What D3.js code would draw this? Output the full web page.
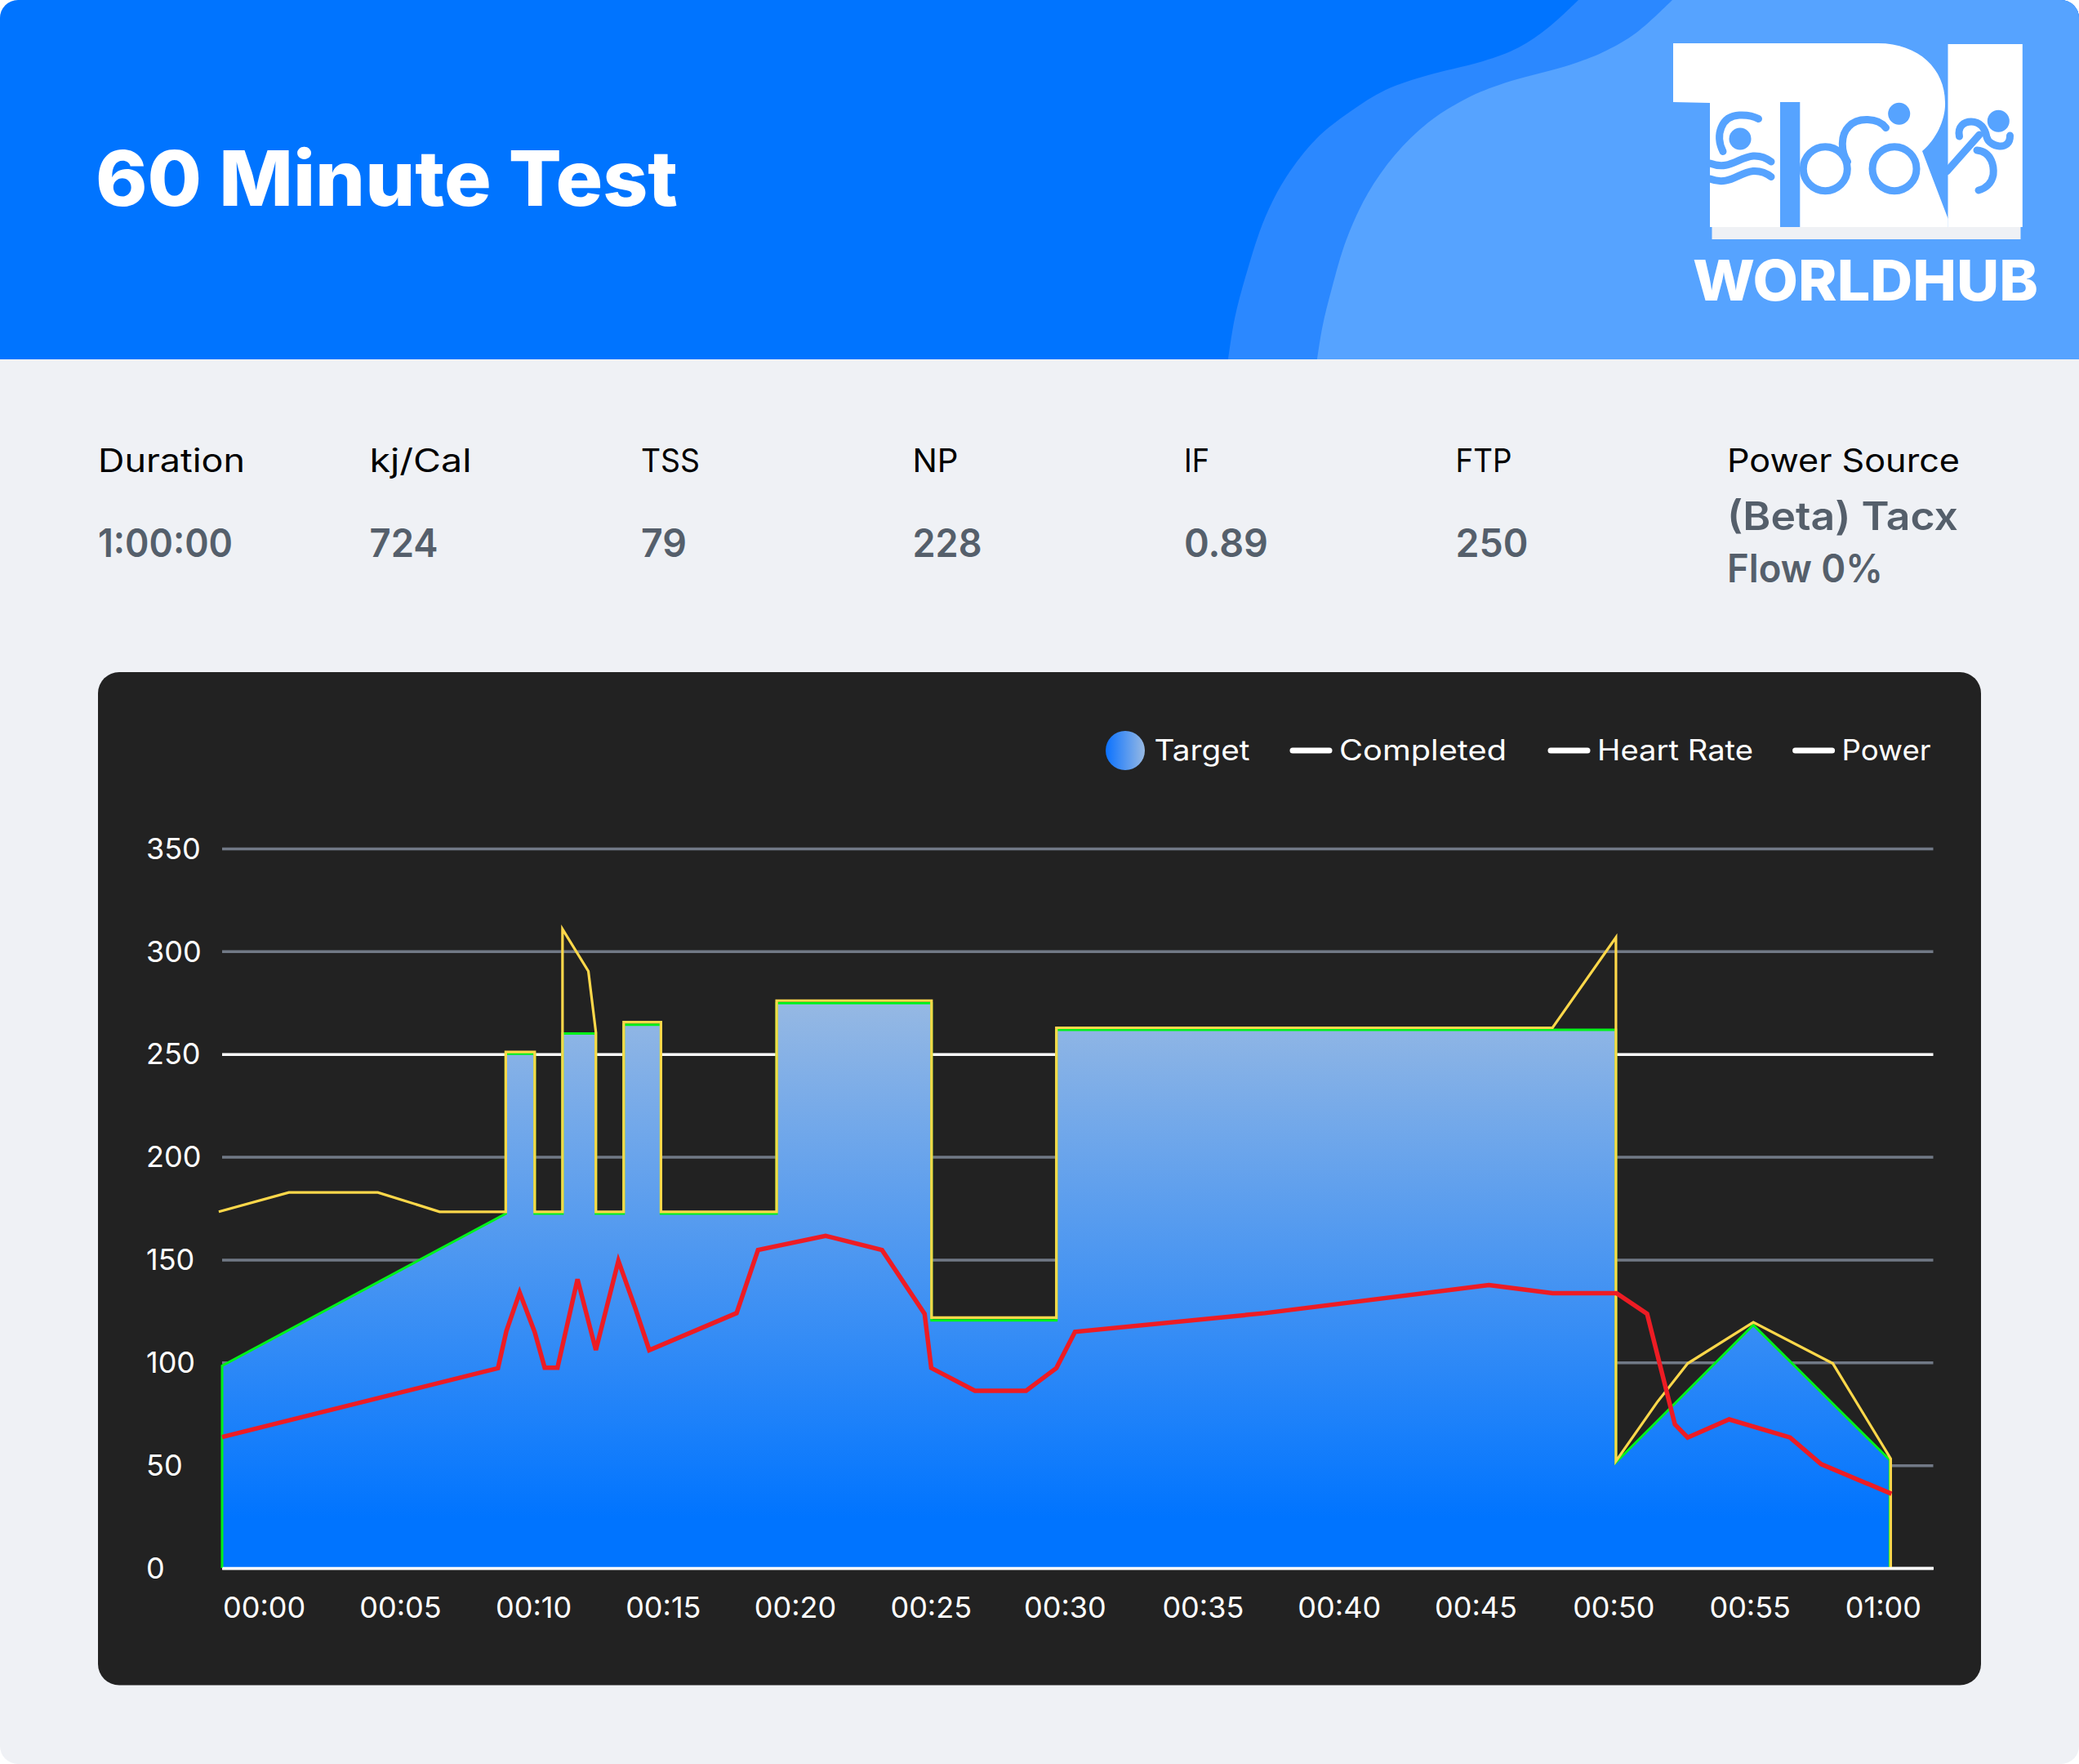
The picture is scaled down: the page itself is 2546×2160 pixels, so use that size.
<!DOCTYPE html>
<html>
<head>
<meta charset="utf-8">
<script src="https://cdn.jsdelivr.net/npm/d3@7"></script>
<style>
html,body{margin:0;padding:0;background:#fff}
svg{display:block}
text{font-family:Inter,sans-serif}
</style>
</head>
<body>
<svg id="chart" width="2546" height="2160" viewBox="0 0 2546 2160"></svg>
<script>
// ---------- data ----------
const chartTitle = "60 Minute Test";
const statNames = ["Duration","kj/Cal","TSS","NP","IF","FTP","Power Source"];
const statValues = [["1:00:00"],["724"],["79"],["228"],["0.89"],["250"],["(Beta) Tacx","Flow 0%"]];
const legendNames = ["Target","Completed","Heart Rate","Power"];
const yTicks = [0,50,100,150,200,250,300,350];
const xTickMinutes = [1.5,6.4,11.19,15.85,20.6,25.48,30.3,35.26,40.16,45.07,50.03,54.93,59.72];
const xTickLabels = ["00:00","00:05","00:10","00:15","00:20","00:25","00:30","00:35","00:40","00:45","00:50","00:55","01:00"];

const targetMinutes = [0,0,10.2,10.2,11.24,11.24,12.24,12.24,13.44,13.44,14.44,14.44,15.78,15.78,19.94,19.94,25.51,25.51,30,30,50.12,50.12,55.06,59.97,59.97];
const targetWatts   = [0,98.4,172.4,250.2,250.2,172.4,172.4,260,260,172.4,172.4,264.3,264.3,172.4,172.4,274.8,274.8,120.5,120.5,261.8,261.8,51.4,118.2,52.5,0];

const powerMinutes = [-0.12,2.4,5.6,7.82,10.2,10.2,11.24,11.24,12.24,12.24,13.17,13.44,13.44,14.44,14.44,15.78,15.78,19.94,19.94,25.51,25.51,30,30,47.84,50.12,50.12,51.6,52.7,55.06,57.92,60,60];
const powerWatts   = [173.3,182.7,182.7,173.3,173.3,251,251,173.3,173.3,310.8,290.3,260.7,173.3,173.3,265.5,265.5,173.3,173.3,276,276,121.8,121.8,262.8,262.8,306.8,52,80.6,99.5,119.5,99.5,53.2,0];

const heartMinutes = [0,9.92,10.22,10.7,11.24,11.6,12.06,12.78,13.44,14.25,14.86,15.36,18.5,19.27,21.7,23.73,25.26,25.5,27.07,28.91,30,30.67,37.5,45.55,47.84,50.14,51.24,52.24,52.7,54.19,56.38,57.5,60.03];
const heartRate    = [63.7,97.2,115.2,134,114.8,97.4,97.4,140.5,106,149.4,126.3,106,124,154.7,161.6,154.7,123.7,97.3,86.2,86.2,97.3,114.9,124,137.6,133.7,133.7,123.7,69.9,63.5,72.3,63.5,50.5,36.1];

// ---------- layout (rendered text widths) ----------
const statLabelWidths = [180,125,72,56,31,69,285];
const statValueWidths = [[165],[84],[56],[85],[103],[89],[283,191]];
const legendWidths = [117,205,191,109];

// ---------- scales ----------
const x = d3.scaleLinear().domain([0,61.53]).range([272,2367.5]);
const y = d3.scaleLinear().domain([0,350]).range([1920,1039]);

const svg = d3.select("#chart");
const defs = svg.append("defs");
defs.append("clipPath").attr("id","page").append("rect")
  .attr("width",2546).attr("height",2160).attr("rx",22);
const areaGrad = defs.append("linearGradient").attr("id","areaGrad")
  .attr("gradientUnits","userSpaceOnUse").attr("x1",0).attr("x2",0)
  .attr("y1",y(24)).attr("y2",y(277));
areaGrad.append("stop").attr("offset",0).attr("stop-color","#0074ff");
areaGrad.append("stop").attr("offset",1).attr("stop-color","#97b9e3");
const legGrad = defs.append("linearGradient").attr("id","legGrad");
legGrad.append("stop").attr("offset",0).attr("stop-color","#0b72ff");
legGrad.append("stop").attr("offset",1).attr("stop-color","#97b9e3");

const page = svg.append("g").attr("clip-path","url(#page)");
page.append("rect").attr("width",2546).attr("height",2160).attr("fill","#eff1f5");

// ---------- header ----------
const hdr = page.append("g");
hdr.append("rect").attr("width",2546).attr("height",440).attr("fill","#0074ff");
const blobLine = d3.line().curve(d3.curveCatmullRom.alpha(0.5));
const backBlob  = [[1933,0],[1897,33],[1860,58],[1816,75],[1749,92],[1697,110],[1653,137],[1612,170],[1575,217],[1549,267],[1527,333],[1512,390],[1504,440]];
const frontBlob = [[2048,0],[2004,40],[1967,62],[1927,78],[1841.5,102],[1797,120],[1749,150],[1708,190],[1675,237],[1649,293],[1631,353],[1619.5,400],[1613,440]];
hdr.append("path").attr("fill","#2b88ff").attr("d", blobLine(backBlob)+"L2546,440L2546,0Z");
hdr.append("path").attr("fill","#56a3ff").attr("d", blobLine(frontBlob)+"L2546,440L2546,0Z");
hdr.append("text").text(chartTitle).attr("x",117).attr("y",251.5)
  .attr("fill","#fff").attr("font-size",93.5).attr("font-weight",800)
  .attr("textLength",713).attr("lengthAdjust","spacingAndGlyphs");

// ---------- logo ----------
const logo = hdr.append("g");
logo.append("rect").attr("x",2096.5).attr("y",278).attr("width",378).attr("height",15).attr("fill","#eff1f5");
logo.append("path").attr("fill","#fff")
  .attr("d","M2049,53 L2300,53 C2350,53 2382,85 2382,125 C2383,145 2372,170 2354,185 L2385.7,268 L2385.7,278 L2094,278 L2094,126 L2049,125 Z");
logo.append("rect").attr("x",2385.5).attr("y",54).attr("width",91.3).attr("height",224).attr("fill","#fff");
const ic = logo.append("g").attr("fill","none").attr("stroke","#56a3ff").attr("stroke-width",9).attr("stroke-linecap","round");
ic.append("rect").attr("x",2180).attr("y",125).attr("width",24.3).attr("height",153).attr("fill","#56a3ff").attr("stroke","none");
const heads = [[2131,170],[2325.7,139.3],[2447.3,148.3]];
ic.selectAll("circle.h").data(heads).join("circle").attr("class","h")
  .attr("cx",d=>d[0]).attr("cy",d=>d[1]).attr("r",13.5).attr("fill","#56a3ff").attr("stroke","none");
ic.selectAll("circle.w").data([2235.3,2320]).join("circle").attr("class","w")
  .attr("cx",d=>d).attr("cy",206.7).attr("r",27);
[
 "M2110,185.5 C2100,165 2108,142 2130,141 C2140,140.500 2149,143 2153.5,145.500",
 "M2094,200 C2118,209 2128,193 2147,191 C2156,190.500 2164,194 2169,198",
 "M2094,219 C2118,228 2128,211.500 2147,209.500 C2156,209 2164,212.500 2169,216.500",
 "M2262.500,198 C2254,185 2254,165 2264,155 C2275,143 2300,144 2309.500,156.500",
 "M2384,210 L2424,165",
 "M2399.500,167 C2397,155 2405,149 2414,149 C2425,149 2431,157 2433,168 C2436,180 2462,186 2461.500,166",
 "M2421,184 C2440,186 2442,205 2441,214 C2439,225 2431,231 2423,233"
].forEach(d=>ic.append("path").attr("d",d));
logo.append("text").text("WORLDHUB").attr("x",2073).attr("y",368).attr("fill","#fff")
  .attr("font-size",69).attr("font-weight",800).attr("textLength",423).attr("lengthAdjust","spacingAndGlyphs");

// ---------- stats ----------
const statX = d3.scalePoint().domain(statNames).range([120,2115]);
const stats = page.append("g").selectAll("g").data(statNames).join("g")
  .attr("transform",d=>`translate(${statX(d)},0)`);
stats.append("text").text(d=>d).attr("y",577.5).attr("fill","#000").attr("font-size",39)
  .attr("textLength",(d,i)=>statLabelWidths[i]).attr("lengthAdjust","spacingAndGlyphs");
stats.each(function(d,i){
  const lines = statValues[i];
  const base = lines.length>1 ? 649 : 681.5;
  d3.select(this).selectAll("text.v").data(lines).join("text").attr("class","v")
    .text(t=>t).attr("y",(t,j)=>base+j*64).attr("fill","#555f6b")
    .attr("font-size",48).attr("font-weight",600)
    .attr("textLength",(t,j)=>statValueWidths[i][j]).attr("lengthAdjust","spacingAndGlyphs");
});

// ---------- card ----------
page.append("rect").attr("x",120).attr("y",823).attr("width",2306).attr("height",1240.5).attr("rx",26).attr("fill","#222222");

// legend
const leg = page.append("g").attr("fill","#fff").attr("font-size",35);
leg.append("circle").attr("cx",1378).attr("cy",919).attr("r",24).attr("fill","url(#legGrad)");
const legScale = d3.scaleOrdinal().domain(legendNames).range([1413.5,1640,1956,2255.6]);
leg.selectAll("text").data(legendNames).join("text").text(d=>d)
  .attr("x",d=>legScale(d)).attr("y",931)
  .attr("textLength",(d,i)=>legendWidths[i]).attr("lengthAdjust","spacingAndGlyphs");
leg.selectAll("line").data(legendNames.slice(1)).join("line")
  .attr("x1",d=>legScale(d)-57).attr("x2",d=>legScale(d)-12).attr("y1",919).attr("y2",919)
  .attr("stroke","#fff").attr("stroke-width",7).attr("stroke-linecap","round");

// axes
const yAxis = page.append("g").attr("transform",`translate(${x.range()[0]},0)`)
  .call(d3.axisLeft(y).tickValues(yTicks).tickSize(-(x.range()[1]-x.range()[0])).tickPadding(0));
yAxis.select(".domain").remove();
yAxis.selectAll(".tick line").attr("stroke",d=>(d===250||d===0)?"#ffffff":"#717986").attr("stroke-width",3.5);
yAxis.selectAll(".tick text").attr("text-anchor","start").attr("x",179-272).attr("dy","0.34em")
  .attr("fill","#fff").attr("font-size",36).attr("font-family","Inter,sans-serif");

// target area
const pts = (xs,ys)=>xs.map((m,i)=>[m,ys[i]]);
const area = d3.area().x(d=>x(d[0])).y0(y(0)).y1(d=>y(d[1]));
const line = d3.line().x(d=>x(d[0])).y(d=>y(d[1]));
const plot = page.append("g").attr("fill","none");
plot.append("path").attr("d",area(pts(targetMinutes,targetWatts))).attr("fill","url(#areaGrad)");
plot.append("path").attr("d",line(pts(targetMinutes,targetWatts))).attr("stroke","#00f21a").attr("stroke-width",3);
plot.append("path").attr("d",line(pts(powerMinutes,powerWatts))).attr("stroke","#ffd84a").attr("stroke-width",3.2);
plot.append("path").attr("d",line(pts(heartMinutes,heartRate))).attr("stroke","#ed1c24").attr("stroke-width",5.5).attr("stroke-linejoin","miter");

// x axis, baseline on top of the area
const xAxis = page.append("g").attr("transform",`translate(0,${y(0)})`)
  .call(d3.axisBottom(x).tickValues(xTickMinutes).tickFormat((d,i)=>xTickLabels[i]).tickSize(0).tickPadding(35));
xAxis.select(".domain").attr("stroke","#fff").attr("stroke-width",3.5);
xAxis.selectAll(".tick text").attr("fill","#fff").attr("font-size",36).attr("font-family","Inter,sans-serif");
</script>
</body>
</html>
